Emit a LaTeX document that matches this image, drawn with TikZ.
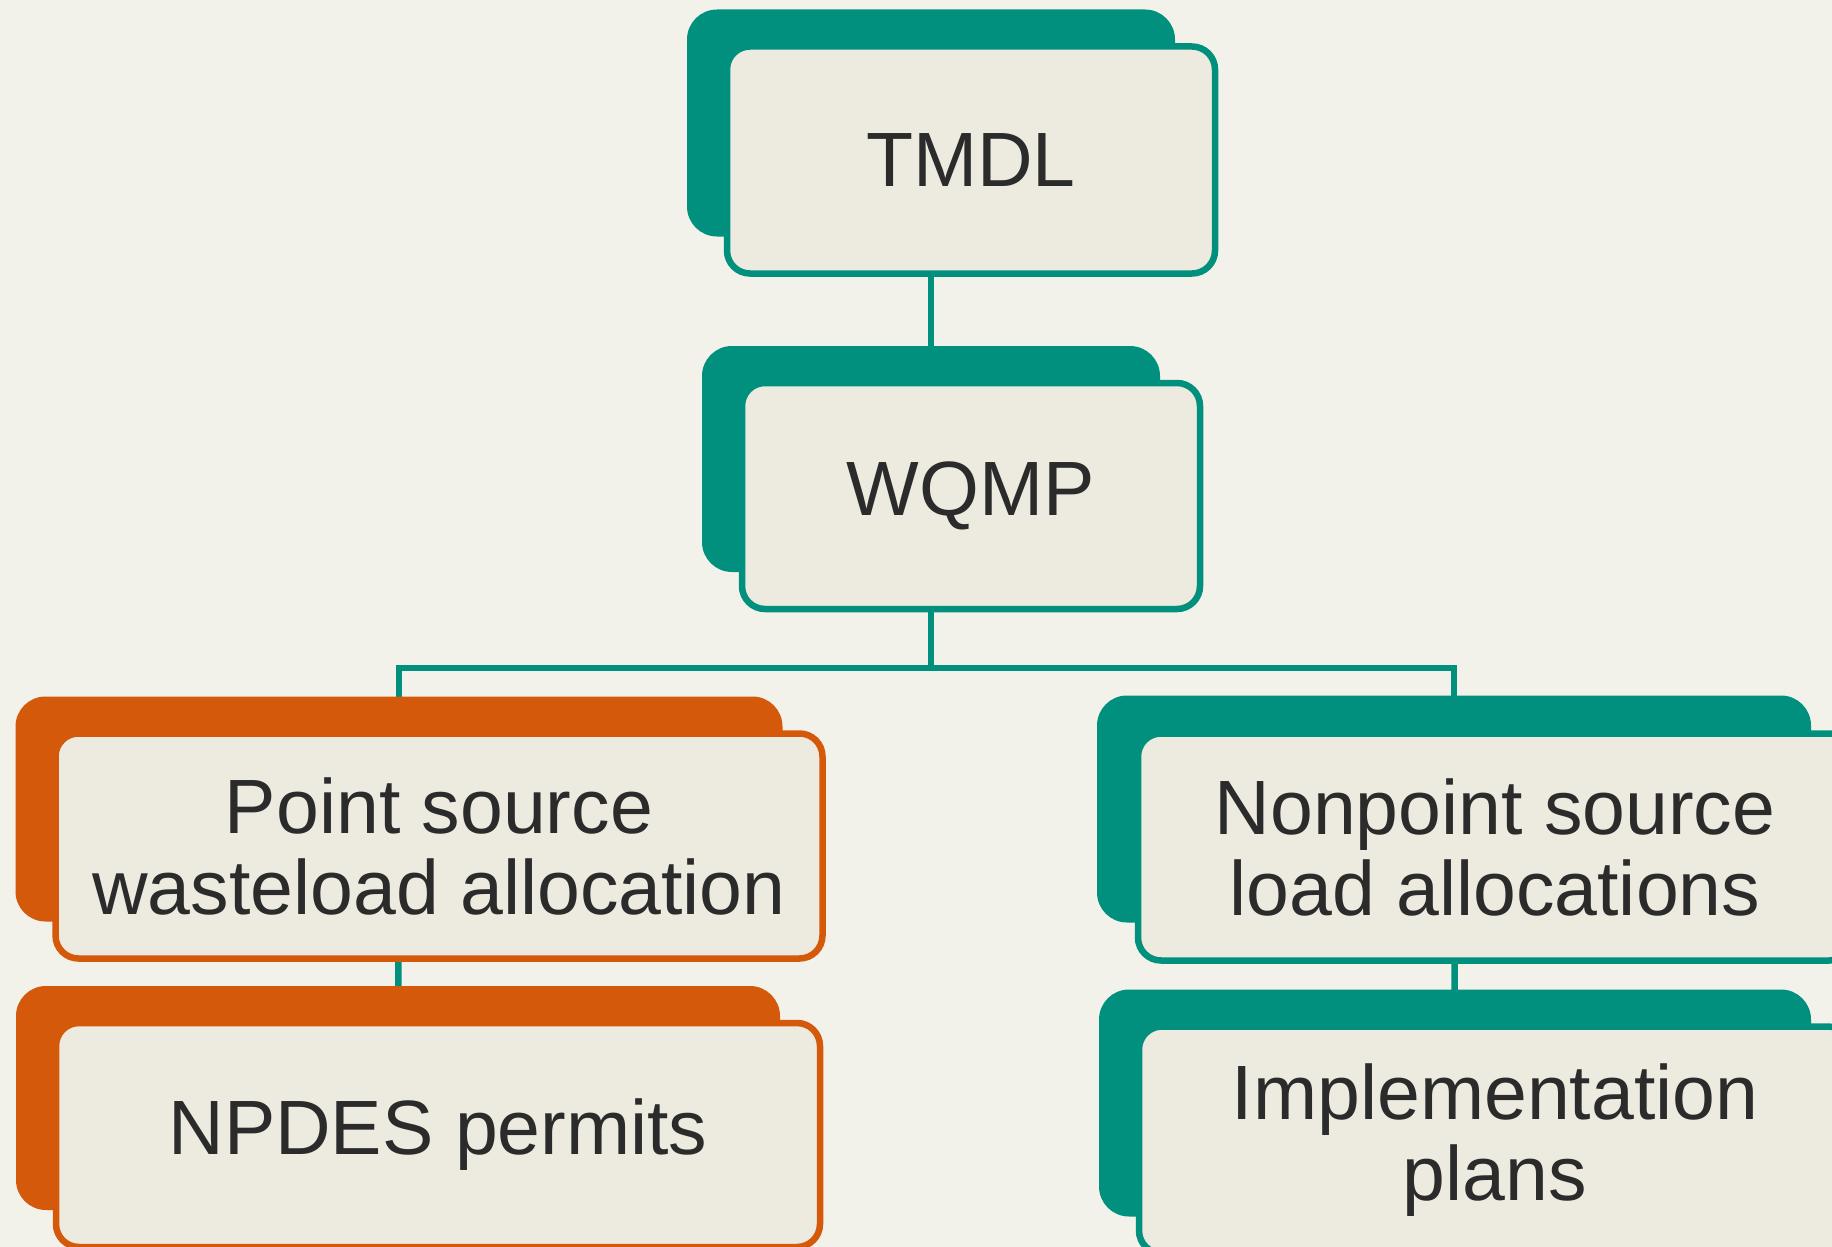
\documentclass[tikz,border=0pt]{standalone}
\usepackage{fontspec}
\setmainfont{Liberation Sans}
\definecolor{teal}{HTML}{02907E}
\definecolor{rust}{HTML}{D4590A}
\definecolor{paper}{HTML}{F3F2EA}
\definecolor{card}{HTML}{EDEBDF}
\definecolor{ink}{HTML}{2B2B2B}
\pgfdeclarelayer{canvas}
\pgfdeclarelayer{wires}
\pgfsetlayers{canvas,wires,main}
\tikzset{
  tab/.style={fill=#1, draw=none, rounded corners=30pt, inner sep=0pt, outer sep=0pt},
  card/.style={fill=card, draw=#1, line width=6.5pt, rounded corners=23pt,
    inner sep=0pt, outer sep=0pt, align=center, text=ink,
    font=\fontsize{77}{81}\selectfont},
  wire/.style={draw=teal, line width=6.5pt},
}
\begin{document}
\begin{tikzpicture}[x=1pt,y=-1pt]
\begin{pgfonlayer}{canvas}
  \fill[paper] (0,0) rectangle (1832,1247);
\end{pgfonlayer}
\useasboundingbox (0,0) rectangle (1832,1247);

% TMDL
\node[tab=teal, minimum width=488pt, minimum height=227pt] (tmdl-back) at (931,123) {};
\node[card=teal, minimum width=488pt, minimum height=227pt] (tmdl) at (971,160) {TMDL};

% WQMP
\node[tab=teal, minimum width=458pt, minimum height=226pt] (wqmp-back) at (931,459) {};
\node[card=teal, minimum width=458pt, minimum height=226pt] (wqmp) at (971,496) {WQMP};

% Point source branch
\node[tab=rust, minimum width=767pt, minimum height=225pt] (point-back) at (399,809) {};
\node[card=rust, minimum width=767pt, minimum height=225pt] (point) at (439,846) {Point source\\wasteload allocation};

\node[tab=rust, minimum width=764pt, minimum height=224pt] (npdes-back) at (398,1098) {};
\node[card=rust, minimum width=764pt, minimum height=224pt] (npdes) at (438,1135) {NPDES permits};

% Nonpoint source branch
\node[tab=teal, minimum width=714pt, minimum height=227pt] (nonpoint-back) at (1454,809) {};
\node[card=teal, minimum width=714pt, minimum height=227pt] (nonpoint) at (1495,847) {Nonpoint source\\load allocations};

\node[tab=teal, minimum width=712pt, minimum height=227pt] (impl-back) at (1455,1103) {};
\node[card=teal, minimum width=712pt, minimum height=227pt] (impl) at (1495,1140) {Implementation\\plans};

% Connectors
\coordinate (bus) at (931,668);
\begin{pgfonlayer}{wires}
  \draw[wire] (tmdl-back.center) -- (wqmp-back.center);
  \draw[wire] (wqmp-back.center) -- (bus);
  \draw[wire] (point-back.center) -- (point-back.center |- bus)
              -- (nonpoint-back.center |- bus) -- (nonpoint-back.center);
  \draw[wire] (point-back.center) -- (npdes-back.center);
  \draw[wire] (nonpoint-back.center) -- (impl-back.center);
\end{pgfonlayer}
\end{tikzpicture}
\end{document}
